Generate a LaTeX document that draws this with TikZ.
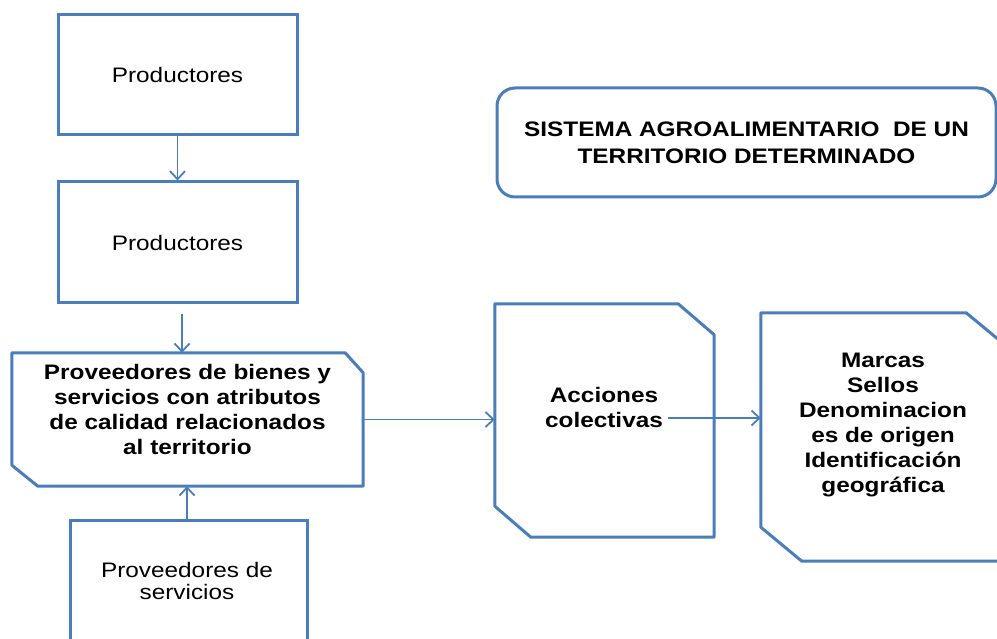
\documentclass[tikz,border=0pt]{standalone}
\usepackage{fontspec}
\setmainfont{Liberation Sans}[FakeStretch=1.16]
\usetikzlibrary{positioning, arrows.meta}
\definecolor{marco}{RGB}{74,126,187}

\begin{document}
\begin{tikzpicture}[
  x=1pt, y=-1pt,
  font=\fontsize{21}{25}\selectfont,
  >={Straight Barb[length=8pt, width=15pt]},
  caja/.style={rectangle, draw=marco, line width=3pt, align=center},
  hueco/.style={rectangle, inner sep=0pt},
  borde/.style={draw=marco, line width=3pt, line join=round},
  flecha/.style={->, line width=1.8pt, draw=marco},
  negrita/.style={align=center, font=\bfseries\fontsize{21}{25}\selectfont},
]
\clip (0,0) rectangle (997,639);
\useasboundingbox (0,0) rectangle (997,639);

% --- cajas ---
\node[caja, minimum width=239pt, minimum height=120pt] (prod1) at (177.5,75)  {Productores};
\node[caja, minimum width=239pt, minimum height=121pt] (prod2) at (177.5,242.5) {Productores};

\node[hueco, minimum width=351pt, minimum height=133pt] (prov) at (187.5,419.5) {};
\draw[borde] (prov.north west) -- ([xshift=-18pt]prov.north east) -- ([yshift=-20pt]prov.north east)
  -- (prov.south east) -- ([xshift=26pt]prov.south west) -- ([yshift=21pt]prov.south west) -- cycle;
\node[negrita] (provtxt) at (187.5,409) {Proveedores de bienes y\\servicios con atributos\\de calidad relacionados\\al territorio};

\node[caja, minimum width=237pt, minimum height=180pt] (serv) at (188.5,610) {};
\node[align=center, font=\fontsize{21}{22}\selectfont] (servtxt) at (187,581) {Proveedores de\\servicios};

\node[caja, rounded corners=18pt, minimum width=499pt, minimum height=109pt,
      font=\bfseries\fontsize{21}{27}\selectfont] (titulo) at (746.5,142.5)
      {SISTEMA AGROALIMENTARIO~ DE UN\\TERRITORIO DETERMINADO};

\node[hueco, minimum width=219pt, minimum height=233pt] (acc) at (604.5,420.5) {};
\draw[borde] (acc.north west) -- ([xshift=-36pt]acc.north east) -- ([yshift=-31pt]acc.north east)
  -- (acc.south east) -- ([xshift=36pt]acc.south west) -- ([yshift=31pt]acc.south west) -- cycle;
\node[negrita] (acctxt) at (604,407) {Acciones\\colectivas};
\coordinate (accsal) at (668,418);

\node[hueco, minimum width=246pt, minimum height=248pt] (marcas) at (884,437) {};
\draw[borde] (marcas.north west) -- ([xshift=-41pt]marcas.north east) -- ([yshift=-34pt]marcas.north east)
  -- (marcas.south east) -- ([xshift=41pt]marcas.south west) -- ([yshift=34pt]marcas.south west) -- cycle;
\node[negrita] (marcastxt) at (883,425) {Marcas\\Sellos\\Denominacion\\es de origen\\Identificación\\geográfica};

% --- flechas ---
\draw[flecha] (prod1) -- (prod2);
\draw[flecha, shorten <=10pt] ([xshift=4.5pt]prod2.south) -- ([xshift=4.5pt]prod2.south |- prov.north);
\draw[flecha] ([xshift=-1.5pt]serv.north) -- ([xshift=-1.5pt]serv.north |- prov.south);
\draw[flecha] (prov.east) -- (prov.east -| acc.west);
\draw[flecha] (accsal) -- (accsal -| marcas.west);
\end{tikzpicture}
\end{document}
